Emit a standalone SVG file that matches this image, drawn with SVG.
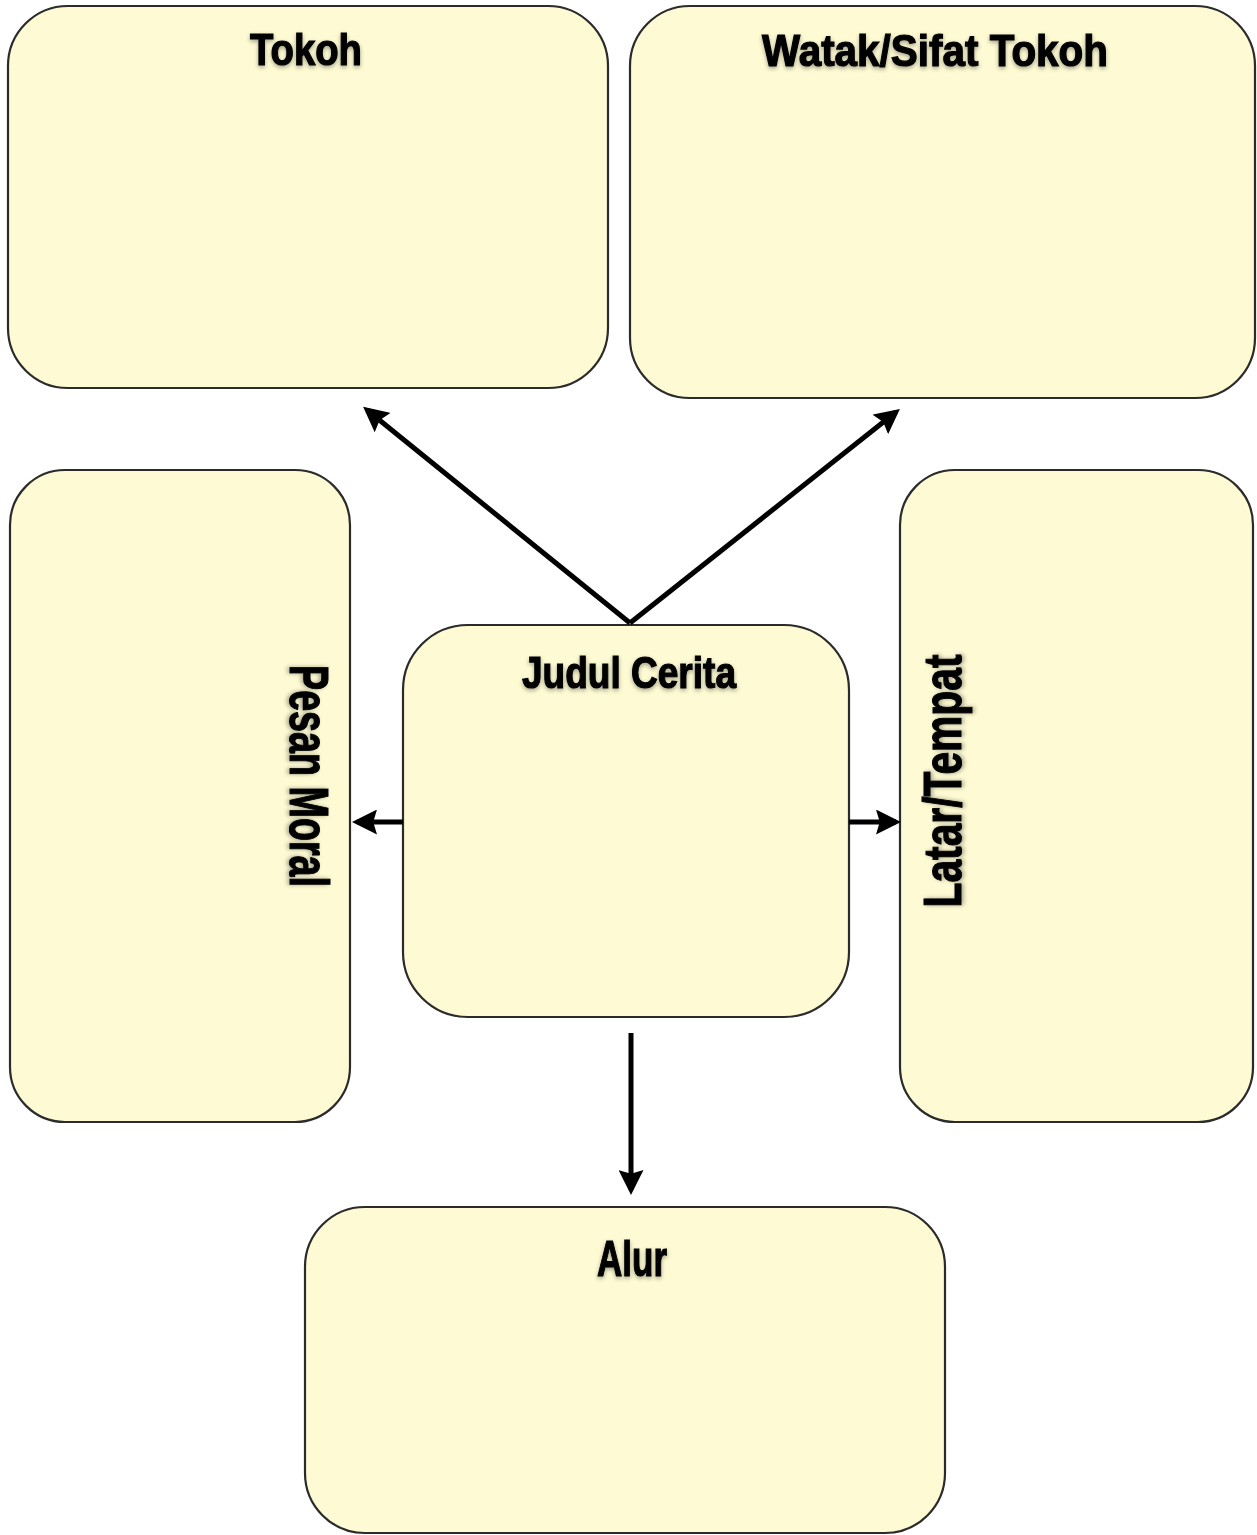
<svg xmlns="http://www.w3.org/2000/svg" width="1257" height="1535" viewBox="0 0 1257 1535">
<defs>
<marker id="ah" viewBox="0 0 10 10" refX="8" refY="5" markerWidth="5" markerHeight="5" markerUnits="strokeWidth" orient="auto">
<path d="M0,0 L10,5 L0,10 L1.5,5 Z" fill="#000"/>
</marker>
<filter id="glow" x="-10%" y="-30%" width="120%" height="160%">
<feGaussianBlur in="SourceAlpha" stdDeviation="2"/>
<feOffset dx="0" dy="1.5" result="b"/>
<feFlood flood-color="#000" flood-opacity="0.35"/>
<feComposite in2="b" operator="in"/>
<feMerge><feMergeNode/><feMergeNode in="SourceGraphic"/></feMerge>
</filter>
</defs>
<style>
.box{fill:#FEFAD3;stroke:#2b2b2b;stroke-width:2.2}
.lbl{font-family:"Liberation Sans Narrow","Liberation Sans",Arial,sans-serif;font-weight:bold;fill:#000;stroke:#000;stroke-width:1.2;text-anchor:middle;filter:url(#glow)}
.conn{stroke:#000;stroke-width:5;fill:none;marker-end:url(#ah)}
</style>
<rect width="1257" height="1535" fill="#fff"/>
<g id="tokoh">
<rect class="box" x="8" y="6" width="600" height="382" rx="60" ry="60"/>
<text class="lbl" x="306" y="65" font-size="44" textLength="112" lengthAdjust="spacingAndGlyphs">Tokoh</text>
</g>
<g id="watak">
<rect class="box" x="630" y="6" width="625" height="392" rx="60" ry="60"/>
<text class="lbl" x="935" y="66" font-size="44" textLength="346" lengthAdjust="spacingAndGlyphs">Watak/Sifat Tokoh</text>
</g>
<g id="pesan-moral">
<rect class="box" x="10" y="470" width="340" height="652" rx="55" ry="55"/>
<text class="lbl" transform="translate(290,776) rotate(90)" x="0" y="0" font-size="56" textLength="222" lengthAdjust="spacingAndGlyphs">Pesan Moral</text>
</g>
<g id="latar-tempat">
<rect class="box" x="900" y="470" width="353" height="652" rx="55" ry="55"/>
<text class="lbl" transform="translate(961,781) rotate(-90)" x="0" y="0" font-size="54" textLength="253" lengthAdjust="spacingAndGlyphs">Latar/Tempat</text>
</g>
<g id="judul-cerita">
<rect class="box" x="403" y="625" width="446" height="392" rx="65" ry="65"/>
<text class="lbl" x="629" y="688" font-size="44" textLength="214" lengthAdjust="spacingAndGlyphs">Judul Cerita</text>
</g>
<g id="alur">
<rect class="box" x="305" y="1207" width="640" height="326" rx="60" ry="60"/>
<text class="lbl" x="632" y="1276" font-size="50" textLength="70" lengthAdjust="spacingAndGlyphs">Alur</text>
</g>
<g id="connectors">
<line class="conn" x1="630" y1="623" x2="367" y2="410"/>
<line class="conn" x1="630" y1="623" x2="896" y2="412"/>
<line class="conn" x1="403" y1="822" x2="357" y2="822"/>
<line class="conn" x1="849" y1="822" x2="896" y2="822"/>
<line class="conn" x1="631" y1="1033" x2="631" y2="1190"/>
</g>
</svg>
